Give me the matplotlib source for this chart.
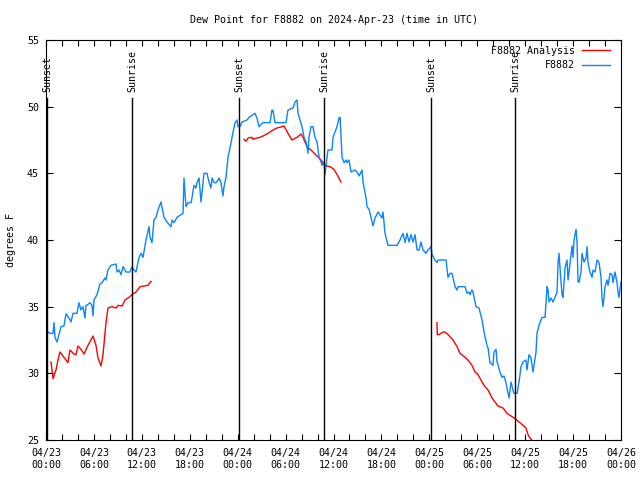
import numpy as np
import pandas as pd
import matplotlib
matplotlib.use('Agg')
import matplotlib.pyplot as plt
import matplotlib.dates as mdates
from matplotlib.transforms import blended_transform_factory

# hours after 2024-04-23 00:00 UTC
obs_hours = [0.25, 0.5, 0.88, 1.0, 1.13, 1.38, 1.88, 2.25, 2.5, 2.88, 3.13, 3.38, 3.88, 4.13, 4.38,
             4.63, 4.88, 5.0, 5.13, 5.5, 5.76, 5.89, 6.01, 6.39, 6.76, 7.01, 7.39, 7.51, 7.76, 8.14,
             8.77, 8.89, 9.14, 9.39, 9.64, 10.02, 10.52, 10.77, 11.02, 11.27, 11.65, 11.9, 12.15, 12.52,
             12.9, 13.02, 13.15, 13.27, 13.52, 13.77, 14.02, 14.4, 14.78, 15.15, 15.65, 15.78, 16.03,
             16.4, 17.16, 17.28, 17.53, 17.78, 18.16, 18.28, 18.53, 18.78, 18.91, 19.16, 19.41, 19.53,
             19.78, 20.16, 20.41, 20.66, 20.79, 21.04, 21.29, 21.54, 21.66, 21.91, 22.16, 22.29, 22.54,
             22.79, 23.17, 23.42, 23.67, 23.92, 24.04, 24.29, 24.54, 25.17, 25.42, 26.17, 26.42, 26.67,
             27.17, 28.05, 28.3, 28.43, 28.68, 30.05, 30.3, 30.93, 31.18, 31.43, 31.56, 32.06, 32.31,
             32.56, 32.68, 32.81, 32.93, 33.18, 33.43, 33.68, 33.94, 34.19, 34.44, 34.56, 34.81, 34.94,
             35.19, 35.31, 35.81, 35.94, 36.44, 36.69, 36.82, 37.07, 37.32, 37.57, 37.69, 37.94, 38.19,
             38.69, 38.94, 39.2, 39.57, 39.7, 40.07, 40.2, 40.45, 40.7, 40.95, 41.2, 41.58, 42.08, 42.2,
             42.45, 42.83, 43.95, 44.33, 44.7, 44.96, 45.2, 45.46, 45.71, 45.96, 46.21, 46.46, 46.71,
             46.96, 47.21, 47.58, 47.83, 48.21, 48.34, 48.71, 48.96, 49.09, 50.09, 50.34, 50.59, 50.84,
             51.22, 51.47, 51.59, 52.47, 52.72, 52.97, 53.09, 53.34, 53.47, 53.84, 54.22, 54.6, 54.85,
             55.22, 55.35, 55.6, 55.97, 56.1, 56.35, 56.47, 56.85, 57.1, 57.35, 57.6, 57.85, 57.98,
             58.23, 58.48, 58.6, 58.98, 59.23, 59.48, 59.73, 60.1, 60.23, 60.48, 60.73, 60.98, 61.36,
             61.48, 61.73, 61.99, 62.11, 62.49, 62.74, 62.86, 62.99, 63.24, 63.49, 63.74, 63.99, 64.12,
             64.24, 64.49, 64.62, 64.74, 64.99, 65.24, 65.37, 65.62, 65.87, 65.99, 66.12, 66.37, 66.5,
             66.62, 66.75, 67.0, 67.12, 67.37, 67.62, 67.75, 67.87, 68.12, 68.37, 68.5, 68.75, 69.0,
             69.25, 69.5, 69.62, 69.75, 70.0, 70.25, 70.38, 70.63, 70.88, 71.0, 71.25, 71.5, 71.63,
             71.75, 72.0]
obs_dewpt = [33.1, 33.0, 33.0, 33.8, 32.7, 32.35, 33.5, 33.55, 34.45, 34.15, 33.85, 34.5, 34.5, 35.3, 34.75,
             35.0, 34.15, 35.1, 35.1, 35.3, 35.1, 34.3, 35.5, 35.9, 36.7, 36.8, 37.15, 37.0, 37.75, 38.1,
             38.2, 37.6, 37.75, 37.4, 38.0, 37.6, 37.6, 38.0, 37.75, 37.6, 38.7, 39.0, 38.7, 40.0,
             41.0, 40.2, 40.0, 39.8, 41.5, 41.7, 42.25, 42.85, 41.7, 41.35, 41.0, 41.5, 41.3,
             41.7, 42.0, 44.65, 42.5, 42.8, 42.8, 43.15, 44.1, 43.9, 44.3, 44.65, 42.85, 43.5,
             45.0, 45.0, 44.35, 43.9, 44.65, 44.3, 44.3, 44.5, 44.65, 44.3, 43.3, 44.0, 44.7,
             46.2, 47.3, 48.1, 48.8, 49.0, 48.5, 48.5, 48.85, 49.0, 49.2, 49.5, 49.15, 48.5,
             48.8, 48.8, 49.75, 49.7, 48.8, 48.8, 49.75, 49.9, 50.35, 50.5, 49.5, 48.5, 47.7,
             47.35, 47.0, 46.5, 47.7, 48.5, 48.5, 47.7, 47.35, 46.2, 45.85, 45.6, 45.85, 44.9,
             46.2, 46.75, 46.75, 47.7, 48.5, 49.15, 49.2, 46.2, 45.8, 46.0, 45.8, 46.0, 45.1,
             45.25, 45.1, 44.8, 45.25, 44.3, 43.2, 42.5, 42.3, 41.7, 41.05, 41.65, 42.1, 41.65, 42.1,
             40.5, 39.6, 39.6, 40.0, 40.5, 39.8, 40.5, 39.85, 40.4, 39.85, 40.4, 39.25, 39.25,
             39.85, 39.25, 39.0, 39.25, 39.5, 38.9, 38.5, 38.3, 38.5, 38.5, 37.2, 37.5, 37.5,
             36.5, 36.25, 36.5, 36.5, 36.0, 36.1, 35.9, 36.25, 36.1, 35.0, 34.9, 34.0, 33.1,
             32.1, 31.9, 30.8, 30.6, 31.6, 31.8, 30.9, 30.1, 29.7, 29.8, 29.3, 28.5, 28.15,
             29.35, 28.75, 28.5, 28.5, 29.35, 30.5, 30.85, 31.0, 30.25, 31.4, 31.15, 30.1, 31.6,
             33.0, 33.6, 34.0, 34.2, 34.2, 36.5, 36.25, 35.35, 35.65, 35.35, 35.7, 36.1, 38.3,
             39.0, 36.85, 35.9, 35.7, 37.9, 38.5, 37.0, 38.3, 39.55, 38.7, 40.0, 40.8, 39.8,
             36.85, 36.85, 37.6, 39.0, 38.35, 38.65, 39.5, 38.3, 37.6, 37.2, 37.75, 37.6, 38.5,
             38.3, 37.2, 35.65, 35.0, 36.5, 37.0, 36.6, 37.5, 37.4, 36.8, 37.6, 36.8, 36.1,
             35.7, 36.85]

ana1_hours = [0.63, 0.88, 1.25, 1.5, 1.75, 2.25, 2.75, 3.0, 3.5, 3.76, 4.0, 4.38, 4.76, 5.26, 5.89,
              6.26, 6.51, 6.89, 7.14, 7.51, 7.76, 8.26, 8.77, 9.02, 9.52, 9.89, 10.39, 10.77, 11.27,
              11.77, 12.27, 12.77, 13.15]
ana1_dewpt = [30.85, 29.6, 30.25, 31.0, 31.6, 31.2, 30.8, 31.75, 31.45, 31.4, 32.05, 31.8, 31.45, 32.1, 32.8,
              32.1, 31.15, 30.55, 31.4, 33.8, 34.9, 35.0, 34.9, 35.1, 35.05, 35.5, 35.7, 35.9, 36.1,
              36.5, 36.55, 36.6, 36.9]
ana2_hours = [24.8, 25.05, 25.3, 25.8, 25.92, 26.42, 26.8, 27.17, 27.8, 28.43, 28.93, 29.55, 29.8, 30.3,
              30.8, 31.43, 31.93, 32.18, 32.68, 33.18, 33.68, 34.19, 34.44, 34.69, 35.06, 35.56, 36.06,
              36.44, 36.94]
ana2_dewpt = [47.55, 47.4, 47.65, 47.7, 47.55, 47.65, 47.7, 47.8, 48.0, 48.25, 48.4, 48.5, 48.55, 48.0,
              47.5, 47.7, 47.95, 47.7, 47.0, 46.75, 46.45, 46.15, 46.0, 45.8, 45.55, 45.5, 45.3,
              44.9, 44.35]
ana3_hours = [48.95, 49.0, 49.21, 49.71, 49.96, 50.34, 50.97, 51.47, 51.84, 52.47, 52.97, 53.34, 53.72,
              54.1, 54.6, 54.97, 55.35, 55.85, 56.22, 56.6, 57.23, 57.73, 58.23, 58.73, 59.23, 59.73,
              60.1, 60.36, 60.61, 60.98]
ana3_dewpt = [33.8, 32.9, 32.9, 33.1, 33.1, 32.9, 32.5, 32.0, 31.5, 31.2, 30.9, 30.6, 30.1,
              29.9, 29.35, 29.0, 28.75, 28.15, 27.85, 27.55, 27.4, 27.0, 26.8, 26.6, 26.35, 26.1,
              25.9, 25.4, 25.15, 24.9]

sun_hours = [0.13, 10.77, 24.17, 34.81, 48.21, 58.73]
sun_names = ['Sunset', 'Sunrise', 'Sunset', 'Sunrise', 'Sunset', 'Sunrise']

start = pd.Timestamp('2024-04-23 00:00')
def to_time(h):
    return start + pd.to_timedelta(np.array(h), unit='h')

plt.rcParams['font.family'] = 'DejaVu Sans Mono'
plt.rcParams['font.size'] = 7.2

fig = plt.figure(figsize=(6.4, 4.8), dpi=100)
ax = fig.add_axes([46/640, 40/480, 575/640, 400/480])

red = '#ff0000'
blue = '#0a84ff'
ax.plot(to_time(ana1_hours), ana1_dewpt, color=red, lw=1, label='F8882 Analysis')
ax.plot(to_time(ana2_hours), ana2_dewpt, color=red, lw=1)
ax.plot(to_time(ana3_hours), ana3_dewpt, color=red, lw=1)
ax.plot(to_time(obs_hours), obs_dewpt, color=blue, lw=1, label='F8882')

trans = blended_transform_factory(ax.transData, ax.transAxes)
for h, name in zip(sun_hours, sun_names):
    t = mdates.date2num(to_time([h])[0])
    ax.plot([t, t], [0, 0.855], color='black', lw=1, transform=trans)
    ax.text(t, 0.87, name, rotation=90, ha='center', va='bottom', transform=trans)

ax.set_xlim(start, start + pd.Timedelta(hours=72))
ax.set_ylim(25, 55)
ax.set_yticks(np.arange(25, 56, 5))
ax.xaxis.set_major_locator(mdates.HourLocator(byhour=range(0, 24, 6)))
ax.xaxis.set_minor_locator(mdates.HourLocator(byhour=range(0, 24, 2)))
ax.xaxis.set_major_formatter(mdates.DateFormatter('%m/%d\n%H:%M'))
ax.tick_params(which='both', direction='in', top=True, right=True, length=4, width=0.8)
ax.tick_params(axis='x', pad=6)
ax.tick_params(axis='y', pad=5, length=5)

ax.set_title('Dew Point for F8882 on 2024-Apr-23 (time in UTC)', fontsize=7.2, pad=12)
ax.set_ylabel('degrees F')
ax.yaxis.set_label_coords(-0.052, 0.5)

ax.legend(loc='upper right', bbox_to_anchor=(1 - 4/575, 1 + 1/400), frameon=False,
          markerfirst=False, handlelength=2.8, borderaxespad=0.3, labelspacing=0.45,
          handletextpad=0.7)

fig.savefig('out.png', dpi=100)
